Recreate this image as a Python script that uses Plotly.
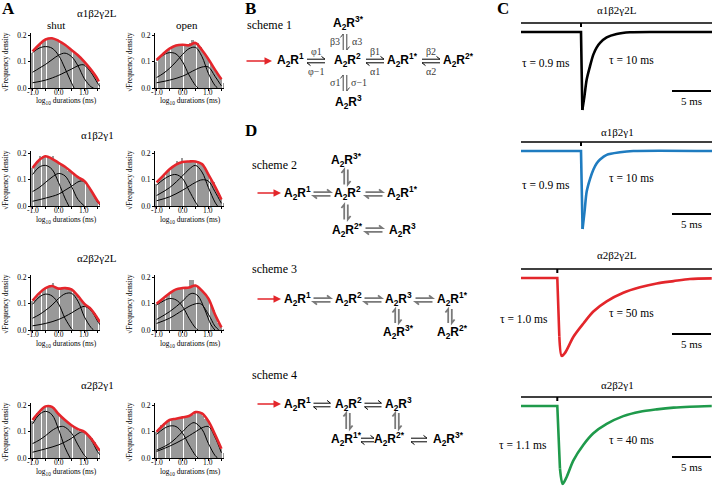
import plotly.graph_objects as go

W, H = 713, 486
def PX(x): return x / W
def PY(y): return 1 - y / H

SERIF = "Liberation Serif"
SANS = "Liberation Sans"

# ---------------- Panel A: histogram data ----------------
bin_x = [-1.0, -0.9, -0.8, -0.7, -0.6, -0.5, -0.4, -0.3, -0.2, -0.1, 0.0, 0.1, 0.2, 0.3,
         0.4, 0.5, 0.6, 0.7, 0.8, 0.9, 1.0, 1.1, 1.2, 1.3, 1.4, 1.5, 1.6]

r1_shut_bars = [0.135, 0.150, 0.160, 0.170, 0.180, 0.185, 0.190, 0.188, 0.192, 0.185, 0.178, 0.172, 0.168, 0.160,
                0.152, 0.145, 0.138, 0.130, 0.122, 0.110, 0.100, 0.090, 0.078, 0.063, 0.050, 0.035, 0.020]
r1_shut_fit = [(-1.0, 0.140), (-0.75, 0.165), (-0.5, 0.185), (-0.25, 0.190), (0.0, 0.180), (0.25, 0.165),
               (0.5, 0.145), (0.75, 0.125), (1.0, 0.100), (1.25, 0.070), (1.5, 0.035), (1.55, 0.025)]
r1_shut_c1 = [(-1.0, 0.135), (-0.75, 0.152), (-0.5, 0.158), (-0.25, 0.152), (0.0, 0.125), (0.25, 0.075), (0.5, 0.020), (0.6, 0.0)]
r1_shut_c2 = [(-1.0, 0.060), (-0.75, 0.075), (-0.5, 0.090), (-0.25, 0.108), (0.0, 0.125), (0.25, 0.133), (0.5, 0.120),
              (0.75, 0.085), (1.0, 0.035), (1.25, 0.005), (1.35, 0.0)]
r1_shut_c3 = [(-1.0, 0.020), (-0.5, 0.030), (0.0, 0.048), (0.25, 0.060), (0.5, 0.072), (0.75, 0.085), (0.9, 0.089),
              (1.0, 0.087), (1.25, 0.060), (1.5, 0.020), (1.6, 0.005)]

r1_open_bars = [0.100, 0.115, 0.125, 0.135, 0.145, 0.150, 0.155, 0.160, 0.165, 0.165, 0.165, 0.160, 0.165, 0.170,
                0.185, 0.175, 0.170, 0.155, 0.140, 0.125, 0.110, 0.095, 0.080, 0.065, 0.050, 0.035, 0.020]
r1_open_fit = [(-1.0, 0.107), (-0.75, 0.130), (-0.5, 0.150), (-0.25, 0.162), (0.0, 0.165), (0.25, 0.163),
               (0.5, 0.172), (0.75, 0.145), (1.0, 0.110), (1.25, 0.070), (1.5, 0.033)]
r1_open_c1 = [(-1.0, 0.105), (-0.75, 0.125), (-0.5, 0.135), (-0.25, 0.130), (0.0, 0.100), (0.25, 0.050), (0.5, 0.010), (0.6, 0.0)]
r1_open_c2 = [(-1.0, 0.040), (-0.75, 0.055), (-0.5, 0.075), (-0.25, 0.100), (0.0, 0.128), (0.25, 0.150), (0.5, 0.155),
              (0.75, 0.120), (1.0, 0.055), (1.25, 0.010), (1.35, 0.0)]
r1_open_c3 = [(-1.0, 0.020), (-0.5, 0.030), (0.0, 0.045), (0.5, 0.070), (0.75, 0.080), (1.0, 0.080), (1.25, 0.045), (1.5, 0.008)]

r2_shut_bars = [0.145, 0.160, 0.170, 0.190, 0.190, 0.190, 0.185, 0.180, 0.190, 0.170, 0.165, 0.160, 0.152, 0.145,
                0.135, 0.130, 0.120, 0.112, 0.105, 0.100, 0.095, 0.085, 0.070, 0.055, 0.040, 0.020, 0.010]
r2_shut_fit = [(-1.0, 0.145), (-0.75, 0.175), (-0.5, 0.190), (-0.25, 0.180), (0.0, 0.165), (0.25, 0.150),
               (0.5, 0.130), (0.75, 0.110), (1.0, 0.095), (1.25, 0.060), (1.5, 0.020), (1.6, 0.008)]
r2_shut_c1 = [(-1.0, 0.120), (-0.75, 0.148), (-0.5, 0.155), (-0.25, 0.140), (0.0, 0.090), (0.25, 0.030), (0.4, 0.0)]
r2_shut_c2 = [(-1.0, 0.055), (-0.75, 0.070), (-0.5, 0.090), (-0.25, 0.110), (0.0, 0.124), (0.25, 0.115), (0.5, 0.075),
              (0.75, 0.025), (1.0, 0.0)]
r2_shut_c3 = [(-1.0, 0.018), (-0.5, 0.030), (0.0, 0.045), (0.25, 0.060), (0.5, 0.075), (0.75, 0.092), (0.9, 0.096),
              (1.0, 0.093), (1.25, 0.060), (1.5, 0.015), (1.6, 0.005)]

r2_open_bars = [0.085, 0.100, 0.110, 0.120, 0.130, 0.140, 0.148, 0.155, 0.170, 0.165, 0.185, 0.170, 0.170, 0.172,
                0.170, 0.170, 0.170, 0.165, 0.160, 0.140, 0.120, 0.105, 0.090, 0.070, 0.050, 0.025, 0.012]
r2_open_fit = [(-1.0, 0.090), (-0.75, 0.115), (-0.5, 0.140), (-0.25, 0.158), (0.0, 0.168), (0.25, 0.170),
               (0.5, 0.170), (0.75, 0.160), (1.0, 0.120), (1.25, 0.075), (1.5, 0.025)]
r2_open_c1 = [(-1.0, 0.080), (-0.75, 0.100), (-0.5, 0.115), (-0.25, 0.120), (0.0, 0.105), (0.25, 0.060), (0.5, 0.015), (0.6, 0.0)]
r2_open_c2 = [(-1.0, 0.040), (-0.5, 0.070), (0.0, 0.115), (0.25, 0.140), (0.5, 0.155), (0.75, 0.130), (1.0, 0.070),
              (1.25, 0.015), (1.35, 0.0)]
r2_open_c3 = [(-1.0, 0.020), (-0.5, 0.035), (0.0, 0.060), (0.5, 0.090), (0.75, 0.100), (1.0, 0.095), (1.25, 0.055), (1.5, 0.010)]

r3_shut_bars = [0.110, 0.120, 0.130, 0.145, 0.155, 0.160, 0.165, 0.170, 0.180, 0.165, 0.155, 0.158, 0.160, 0.160,
                0.160, 0.155, 0.145, 0.135, 0.120, 0.110, 0.100, 0.095, 0.088, 0.075, 0.065, 0.050, 0.035]
r3_shut_fit = [(-1.0, 0.112), (-0.75, 0.140), (-0.5, 0.160), (-0.25, 0.168), (0.0, 0.158), (0.25, 0.160),
               (0.5, 0.155), (0.75, 0.130), (1.0, 0.100), (1.25, 0.080), (1.5, 0.045), (1.6, 0.030)]
r3_shut_c1 = [(-1.0, 0.098), (-0.75, 0.125), (-0.5, 0.137), (-0.25, 0.130), (0.0, 0.100), (0.25, 0.045), (0.5, 0.005), (0.55, 0.0)]
r3_shut_c2 = [(-1.0, 0.045), (-0.75, 0.058), (-0.5, 0.075), (-0.25, 0.095), (0.0, 0.120), (0.25, 0.138), (0.5, 0.140),
              (0.75, 0.110), (1.0, 0.050), (1.25, 0.010), (1.35, 0.0)]
r3_shut_c3 = [(-1.0, 0.016), (-0.5, 0.025), (0.0, 0.040), (0.5, 0.065), (0.75, 0.080), (1.0, 0.090), (1.25, 0.075),
              (1.5, 0.035), (1.6, 0.020)]

r3_open_bars = [0.100, 0.110, 0.115, 0.125, 0.135, 0.140, 0.145, 0.150, 0.155, 0.158, 0.160, 0.160, 0.165, 0.190,
                0.190, 0.170, 0.165, 0.155, 0.145, 0.135, 0.120, 0.100, 0.075, 0.050, 0.025, 0.010, 0.005]
r3_open_fit = [(-1.0, 0.100), (-0.75, 0.120), (-0.5, 0.140), (-0.25, 0.155), (0.0, 0.160), (0.25, 0.162),
               (0.5, 0.170), (0.75, 0.150), (1.0, 0.120), (1.25, 0.060), (1.5, 0.010)]
r3_open_c1 = [(-1.0, 0.095), (-0.75, 0.110), (-0.5, 0.120), (-0.25, 0.115), (0.0, 0.090), (0.25, 0.045), (0.5, 0.008), (0.6, 0.0)]
r3_open_c2 = [(-1.0, 0.040), (-0.5, 0.070), (0.0, 0.110), (0.25, 0.135), (0.4, 0.140), (0.6, 0.130), (0.85, 0.080),
              (1.1, 0.020), (1.25, 0.0)]
r3_open_c3 = [(-1.0, 0.025), (-0.5, 0.045), (0.0, 0.075), (0.25, 0.090), (0.5, 0.100), (0.7, 0.100), (1.0, 0.060),
              (1.25, 0.015), (1.4, 0.0)]

r4_shut_bars = [0.140, 0.160, 0.170, 0.185, 0.195, 0.198, 0.200, 0.200, 0.190, 0.180, 0.170, 0.160, 0.148, 0.140,
                0.132, 0.125, 0.118, 0.112, 0.105, 0.100, 0.100, 0.095, 0.085, 0.075, 0.060, 0.045, 0.030]
r4_shut_fit = [(-1.0, 0.145), (-0.75, 0.175), (-0.5, 0.197), (-0.25, 0.195), (0.0, 0.168), (0.25, 0.145),
               (0.5, 0.125), (0.75, 0.110), (1.0, 0.100), (1.25, 0.075), (1.5, 0.040), (1.6, 0.028)]
r4_shut_c1 = [(-1.0, 0.130), (-0.75, 0.165), (-0.5, 0.178), (-0.25, 0.165), (0.0, 0.110), (0.25, 0.040), (0.45, 0.0)]
r4_shut_c2 = [(-1.0, 0.055), (-0.75, 0.068), (-0.5, 0.085), (-0.25, 0.105), (0.0, 0.118), (0.2, 0.120), (0.5, 0.095),
              (0.75, 0.050), (1.0, 0.010), (1.1, 0.0)]
r4_shut_c3 = [(-1.0, 0.022), (-0.5, 0.035), (0.0, 0.050), (0.5, 0.075), (0.75, 0.093), (0.95, 0.100), (1.25, 0.070),
              (1.5, 0.025), (1.6, 0.012)]

r4_open_bars = [0.100, 0.115, 0.125, 0.135, 0.140, 0.145, 0.148, 0.150, 0.150, 0.152, 0.155, 0.155, 0.160, 0.162,
                0.165, 0.180, 0.178, 0.170, 0.160, 0.150, 0.140, 0.120, 0.100, 0.080, 0.060, 0.035, 0.020]
r4_open_fit = [(-1.0, 0.100), (-0.75, 0.125), (-0.5, 0.145), (-0.25, 0.150), (0.0, 0.155), (0.25, 0.160),
               (0.5, 0.175), (0.75, 0.170), (1.0, 0.140), (1.25, 0.090), (1.5, 0.035)]
r4_open_c1 = [(-1.0, 0.090), (-0.75, 0.110), (-0.5, 0.122), (-0.25, 0.120), (0.0, 0.095), (0.25, 0.050), (0.5, 0.010), (0.6, 0.0)]
r4_open_c2 = [(-1.0, 0.030), (-0.5, 0.055), (0.0, 0.100), (0.25, 0.125), (0.45, 0.135), (0.75, 0.110), (1.0, 0.055),
              (1.25, 0.010), (1.35, 0.0)]
r4_open_c3 = [(-1.0, 0.025), (-0.5, 0.045), (0.0, 0.070), (0.5, 0.100), (0.75, 0.115), (1.0, 0.120), (1.25, 0.080), (1.5, 0.020)]

row_titles = ["α1β2γ2L", "α1β2γ1", "α2β2γ2L", "α2β2γ1"]
hist_ticks = [-1.0, -0.5, 0.0, 0.5, 1.0, 1.5]
hist_label_vals = [-1.0, 0.0, 1.0]
hist_label_text = ["-1.0", "0.0", "1.0"]
dens_ticks = [0.0, 0.1, 0.2]
dens_ticktext = ["0.0", "0.1", "0.2"]

# ---------------- Panel C: current traces (time ms from onset, normalised current) ----------------
c_r1_t = [-7.7, 0.0, 0.17, 0.43, 0.73, 1.15, 1.58, 2.0, 2.44, 3.29, 4.57, 6.28, 10.0, 16.8]
c_r1_i = [0.0, 0.0, -1.0, -0.83, -0.61, -0.44, -0.29, -0.20, -0.14, -0.07, -0.026, -0.004, 0.0, 0.0]
c_r2_t = [-7.7, 0.0, 0.2, 0.45, 0.73, 1.15, 1.58, 2.0, 2.44, 3.29, 5.0, 6.7, 16.8]
c_r2_i = [0.0, 0.0, -1.0, -0.78, -0.52, -0.36, -0.24, -0.16, -0.11, -0.05, -0.017, 0.0, 0.0]
c_r3_t = [-4.65, 0.0, 0.26, 0.56, 0.99, 2.09, 3.37, 4.62, 6.33, 8.46, 10.6, 12.75, 14.9, 17.0, 19.8]
c_r3_i = [0.0, 0.0, -0.75, -1.0, -0.96, -0.75, -0.58, -0.43, -0.30, -0.19, -0.12, -0.07, -0.04, -0.013, -0.005]
c_r4_t = [-4.65, 0.0, 0.34, 0.68, 1.2, 2.05, 3.33, 4.62, 6.33, 8.46, 10.6, 12.75, 14.9, 17.0, 19.8]
c_r4_i = [0.0, 0.0, -0.8, -1.0, -0.91, -0.70, -0.50, -0.35, -0.23, -0.13, -0.073, -0.043, -0.021, -0.009, 0.0]
c_colors = ["#000000", "#1f7cc0", "#e3262b", "#1f9a4b"]
c_tau_fast = ["τ = 0.9 ms", "τ = 0.9 ms", "τ = 1.0 ms", "τ = 1.1 ms"]
c_tau_slow = ["τ = 10 ms", "τ = 10 ms", "τ = 50 ms", "τ = 40 ms"]

# ---------------- figure ----------------
fig = go.Figure()
axes = {}
annotations = []
shapes = []

def nm(k):
    return "" if k == 1 else str(k)

def ann(text, x, y, size=11, family=SERIF, color="black", xanchor="center", yanchor="middle", angle=0):
    annotations.append(dict(text=text, x=PX(x), y=PY(y), xref="paper", yref="paper", showarrow=False,
                            font=dict(size=size, family=family, color=color), xanchor=xanchor,
                            yanchor=yanchor, textangle=angle))

hist_sets = [
    (r1_shut_bars, r1_shut_fit, [r1_shut_c1, r1_shut_c2, r1_shut_c3]),
    (r1_open_bars, r1_open_fit, [r1_open_c1, r1_open_c2, r1_open_c3]),
    (r2_shut_bars, r2_shut_fit, [r2_shut_c1, r2_shut_c2, r2_shut_c3]),
    (r2_open_bars, r2_open_fit, [r2_open_c1, r2_open_c2, r2_open_c3]),
    (r3_shut_bars, r3_shut_fit, [r3_shut_c1, r3_shut_c2, r3_shut_c3]),
    (r3_open_bars, r3_open_fit, [r3_open_c1, r3_open_c2, r3_open_c3]),
    (r4_shut_bars, r4_shut_fit, [r4_shut_c1, r4_shut_c2, r4_shut_c3]),
    (r4_open_bars, r4_open_fit, [r4_open_c1, r4_open_c2, r4_open_c3]),
]
zero_y = [88, 206, 330, 458]
unit = 262.0
title_y = [13, 135, 258, 385]

for r in range(4):
    for c in range(2):
        k = r * 2 + c + 1
        bars, fit, comps = hist_sets[k - 1]
        xa, ya = "x" + nm(k), "y" + nm(k)
        fig.add_trace(go.Bar(x=bin_x, y=bars, width=0.072, marker=dict(color="#999999", line=dict(width=0)),
                             xaxis=xa, yaxis=ya, hoverinfo="skip"))
        for comp in comps:
            fig.add_trace(go.Scatter(x=[p[0] for p in comp], y=[p[1] for p in comp], mode="lines",
                                     line=dict(color="black", width=1, shape="spline"), xaxis=xa, yaxis=ya))
        fig.add_trace(go.Scatter(x=[p[0] for p in fit], y=[p[1] for p in fit], mode="lines",
                                 line=dict(color="#e5252b", width=2.6, shape="spline"), xaxis=xa, yaxis=ya))
        x0 = 31 + 124 * c
        axes["xaxis" + nm(k)] = dict(domain=[PX(x0), PX(x0 + 69)], range=[-1.06, 1.6], anchor=ya,
                                    showline=True, linecolor="black", linewidth=1, ticks="outside", ticklen=2,
                                    tickcolor="black", tickvals=hist_ticks, showticklabels=False,
                                    showgrid=False, zeroline=False, fixedrange=True)
        axes["yaxis" + nm(k)] = dict(domain=[PY(zero_y[r]), PY(zero_y[r] - 0.21 * unit)], range=[0, 0.21],
                                    anchor=xa, showline=True, linecolor="black", linewidth=1, ticks="outside",
                                    ticklen=2, tickcolor="black", tickvals=dens_ticks, ticktext=dens_ticktext,
                                    tickfont=dict(size=7.5, family=SERIF, color="black"), showgrid=False,
                                    zeroline=False, fixedrange=True)
        # x tick labels sit tight under the axis, as in the original
        for v, txt in zip(hist_label_vals, hist_label_text):
            annotations.append(dict(text=txt, x=v, y=PY(zero_y[r] + 4.5), xref=xa, yref="paper",
                                    showarrow=False, font=dict(size=7.5, family=SERIF, color="black"),
                                    xanchor="center", yanchor="middle"))
        ann("√Frequency density", x0 - 25, zero_y[r] - 0.1 * unit, size=7.5, angle=-90)
        ann("log<sub>10</sub> durations (ms)", x0 + 35, zero_y[r] + 13.5, size=7.5)
    ann(row_titles[r], 97, title_y[r], size=11)

ann("shut", 56, 25, size=11)
ann("open", 187, 25, size=11)

# ---------------- Panel C ----------------
c_sets = [(c_r1_t, c_r1_i), (c_r2_t, c_r2_i), (c_r3_t, c_r3_i), (c_r4_t, c_r4_i)]
onset_px = [581, 581, 557.3, 557.3]
base_px = [32, 151, 278, 406]
split_idx = [2, 2, 2, 2]
px_per_ms = 7.8
amp_px = 78.0
scale_py = [91, 214, 334, 457]
ctitle_py = [10, 132, 255, 385]
tau_fast_pos = [(546, 63), (546, 185), (524, 319), (523, 445)]
tau_slow_pos = [(631, 60), (631, 178), (631, 313), (631, 440)]

for r in range(4):
    k = 9 + r
    xa, ya = "x" + nm(k), "y" + nm(k)
    t, cur = c_sets[r]
    s = split_idx[r]
    fig.add_trace(go.Scatter(x=t[:s + 1], y=cur[:s + 1], mode="lines",
                             line=dict(color=c_colors[r], width=2.6), xaxis=xa, yaxis=ya))
    fig.add_trace(go.Scatter(x=t[s:], y=cur[s:], mode="lines",
                             line=dict(color=c_colors[r], width=2.6, shape="spline", smoothing=0.8),
                             xaxis=xa, yaxis=ya))
    tl = -(onset_px[r] - 521) / px_per_ms
    tr = (712 - onset_px[r]) / px_per_ms
    axes["xaxis" + nm(k)] = dict(domain=[PX(521), PX(712)], range=[tl, tr], anchor=ya, visible=False,
                                fixedrange=True)
    axes["yaxis" + nm(k)] = dict(domain=[max(0, PY(base_px[r] + 1.02 * amp_px)), PY(base_px[r] - 0.2 * amp_px)],
                                range=[-1.02, 0.2], anchor=xa, visible=False, fixedrange=True)
    # agonist application bar and onset tick
    shapes.append(dict(type="line", xref=xa, yref=ya, x0=tl, x1=tr, y0=0.115, y1=0.115,
                       line=dict(color="black", width=1.6)))
    shapes.append(dict(type="line", xref=xa, yref=ya, x0=0, x1=0, y0=0.115, y1=0.065,
                       line=dict(color="black", width=2)))
    # 5 ms scale bar
    sb0 = (672 - onset_px[r]) / px_per_ms
    sby = -(scale_py[r] - base_px[r]) / amp_px
    shapes.append(dict(type="line", xref=xa, yref=ya, x0=sb0, x1=sb0 + 5, y0=sby, y1=sby,
                       line=dict(color="black", width=2)))
    ann("5 ms", 691, scale_py[r] + 10, size=11)
    ann(row_titles[r], 617, ctitle_py[r], size=11)
    ann(c_tau_fast[r], *tau_fast_pos[r], size=11.5)
    ann(c_tau_slow[r], *tau_slow_pos[r], size=11.5)

# ---------------- Panels B and D: kinetic schemes ----------------
def sp(sup):
    return "<b>A<sub>2</sub>R<sup>%s</sup></b>" % sup

def P(x, y):
    return "%.5f %.5f" % (PX(x), PY(y))

def harp(x, y, color="black", width=1.0, half=8.5, gap=1.8, head=3.5, vertical=False):
    """Equilibrium half-arrow pair drawn as two paper-space paths."""
    if not vertical:
        p1 = "M %s L %s L %s" % (P(x - half, y - gap), P(x + half, y - gap), P(x + half - head, y - gap - head * 0.8))
        p2 = "M %s L %s L %s" % (P(x + half, y + gap), P(x - half, y + gap), P(x - half + head, y + gap + head * 0.8))
    else:
        p1 = "M %s L %s L %s" % (P(x - gap, y + half), P(x - gap, y - half), P(x - gap - head * 0.8, y - half + head))
        p2 = "M %s L %s L %s" % (P(x + gap, y - half), P(x + gap, y + half), P(x + gap + head * 0.8, y + half - head))
    for p in (p1, p2):
        shapes.append(dict(type="path", path=p, xref="paper", yref="paper",
                           line=dict(color=color, width=width)))

def red_arrow(x_head, y, length=27):
    annotations.append(dict(text="", x=PX(x_head), y=PY(y), xref="paper", yref="paper", showarrow=True,
                            ax=-length, ay=0, arrowhead=2, arrowsize=1, arrowwidth=1.5, arrowcolor="#e3262b",
                            standoff=0, startstandoff=0))

SPSZ = 12
RATE = dict(size=10, family=SERIF, color="#3a3a3a")
GREY = "#7a7a7a"

# scheme 1
ann("scheme 1", 245, 25, size=12, xanchor="left")
red_arrow(272, 61)
for txt, x, y in [(sp("3*"), 348, 23), (sp("1"), 290, 60), (sp("2"), 347, 60), (sp("1*"), 403, 60),
                  (sp("2*"), 459, 60), (sp("3"), 348, 102)]:
    ann(txt, x, y, size=SPSZ, family=SANS)
for x in [316, 375, 431]:
    harp(x, 61, half=9)
harp(345, 42, half=8, vertical=True, color="#444444")
harp(345, 83, half=8, vertical=True, color="#444444")
for txt, x, y in [("φ1", 316, 52), ("φ−1", 316, 71), ("β1", 375, 52), ("α1", 375, 71), ("β2", 431, 52),
                  ("α2", 431, 71), ("β3", 335, 42), ("α3", 357, 42), ("σ1", 335, 83), ("σ−1", 359, 83)]:
    ann(txt, x, y, **RATE)

# scheme 2
ann("scheme 2", 250, 165, size=12, xanchor="left")
red_arrow(281, 193, length=25)
for txt, x, y in [(sp("3*"), 346, 160), (sp("1"), 297, 193), (sp("2"), 347, 193), (sp("1*"), 402, 193),
                  (sp("2*"), 347, 230), (sp("3"), 403, 230)]:
    ann(txt, x, y, size=SPSZ, family=SANS)
for x, y in [(322, 194), (374, 194), (374, 230)]:
    harp(x, y, color=GREY, width=1.8, half=8.5)
for x, y in [(346, 177), (346, 212)]:
    harp(x, y, color=GREY, width=1.8, half=7.5, vertical=True)

# scheme 3
ann("scheme 3", 250, 269, size=12, xanchor="left")
red_arrow(281, 299, length=25)
for txt, x, y in [(sp("1"), 297, 299), (sp("2"), 348, 299), (sp("3"), 398, 299), (sp("1*"), 452, 299),
                  (sp("3*"), 398, 332), (sp("2*"), 452, 332)]:
    ann(txt, x, y, size=SPSZ, family=SANS)
for x in [322, 373, 424]:
    harp(x, 300, color=GREY, width=1.8, half=8.5)
for x in [397, 450]:
    harp(x, 316, color=GREY, width=1.8, half=7, vertical=True)

# scheme 4
ann("scheme 4", 250, 375, size=12, xanchor="left")
red_arrow(281, 404, length=25)
for txt, x, y in [(sp("1"), 297, 404), (sp("2"), 348, 404), (sp("3"), 398, 404), (sp("1*"), 346, 439),
                  (sp("2*"), 389, 439), (sp("3*"), 448, 439)]:
    ann(txt, x, y, size=SPSZ, family=SANS)
for x, y, hf in [(322, 405, 8.5), (373, 405, 8.5), (367.5, 440, 6.5), (419, 440, 8)]:
    harp(x, y, color="black", width=1.0, half=hf)
for x in [348, 397]:
    harp(x, 421, color=GREY, width=1.8, half=8, vertical=True)

# panel letters
for txt, x, y in [("A", 8, 9), ("B", 250, 8), ("C", 503, 8), ("D", 251, 131)]:
    ann("<b>%s</b>" % txt, x, y, size=17, family=SERIF)

fig.update_layout(width=W, height=H, margin=dict(l=0, r=0, t=0, b=0), showlegend=False,
                  paper_bgcolor="white", plot_bgcolor="white", bargap=0, template="none",
                  annotations=annotations, shapes=shapes, **axes)

fig.write_html("out.html", config={"displayModeBar": False},
               post_script="document.body.style.margin='0px';document.body.style.overflow='hidden';")
